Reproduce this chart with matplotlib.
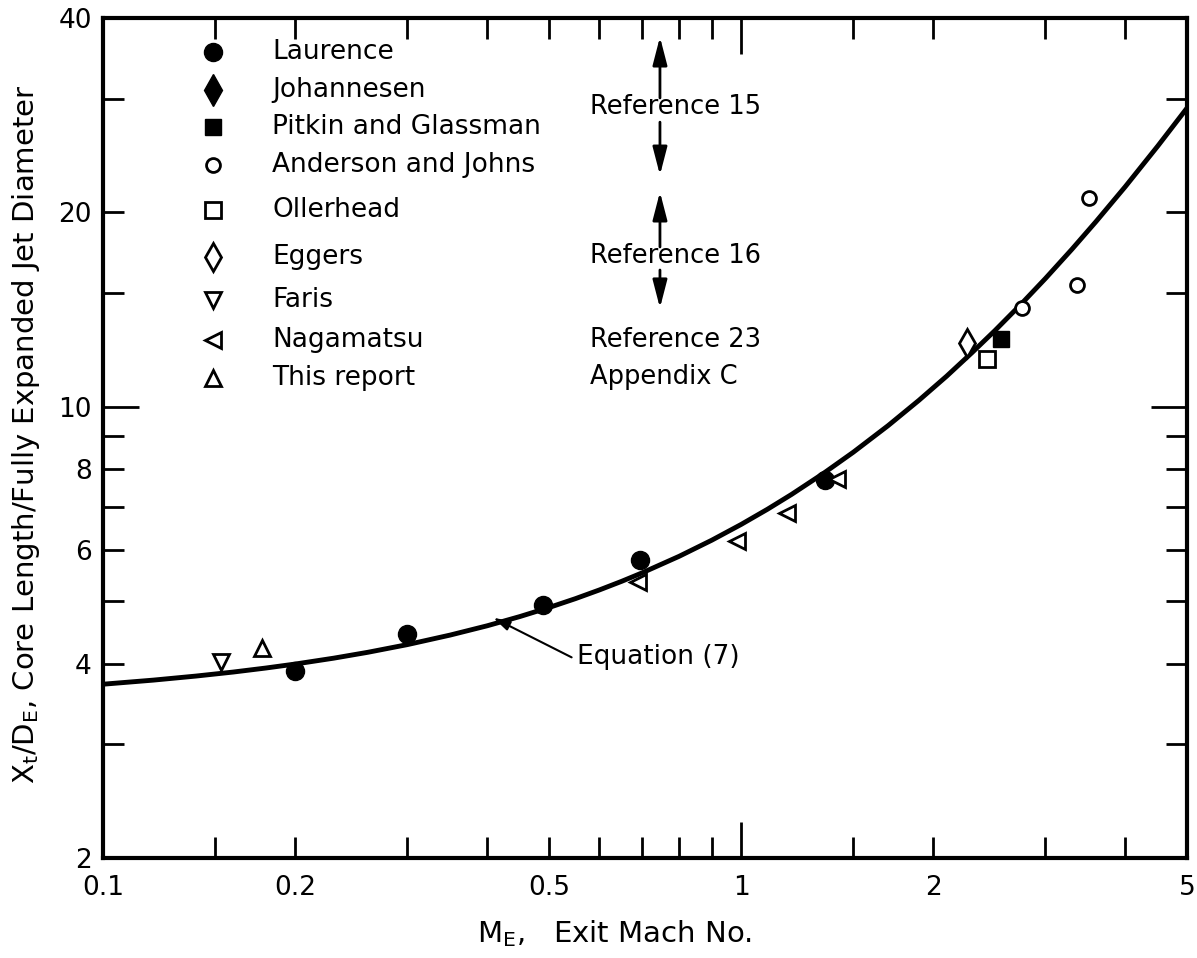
import matplotlib
matplotlib.use("Agg")
import matplotlib.pyplot as plt

plt.rcParams["font.family"] = ["DejaVu Sans"]
plt.rcParams["mathtext.default"] = "regular"

# Exit Mach number / core length ratio for each data source
laurence_m = [0.2, 0.3, 0.49, 0.695, 1.354]
laurence_x = [3.89, 4.45, 4.93, 5.79, 7.70]

johannesen_m = []
johannesen_x = []

pitkin_m = [2.556]
pitkin_x = [12.73]

anderson_m = [2.757, 3.363, 3.512]
anderson_x = [14.22, 15.43, 21.05]

ollerhead_m = [2.43]
ollerhead_x = [11.85]

eggers_m = [2.26]
eggers_x = [12.55]

faris_m = [0.153]
faris_x = [4.02]

nagamatsu_m = [0.690, 0.986, 1.18, 1.414]
nagamatsu_x = [5.35, 6.19, 6.84, 7.73]

this_report_m = [0.1777]
this_report_x = [4.23]

# Equation (7) curve
eq_m = [0.1, 0.12, 0.14, 0.16, 0.18, 0.2, 0.23, 0.26, 0.3, 0.35, 0.4, 0.45,
        0.5, 0.55, 0.6, 0.65, 0.7, 0.8, 0.9, 1.0, 1.1, 1.2, 1.35, 1.5, 1.7,
        1.9, 2.1, 2.3, 2.5, 2.75, 3.0, 3.3, 3.6, 4.0, 4.5, 5.0]
eq_x = [3.717, 3.772, 3.827, 3.882, 3.938, 3.994, 4.079, 4.165, 4.281,
        4.429, 4.578, 4.731, 4.886, 5.043, 5.203, 5.365, 5.530, 5.866,
        6.213, 6.570, 6.937, 7.314, 7.898, 8.504, 9.347, 10.23, 11.15,
        12.12, 13.12, 14.43, 15.80, 17.53, 19.35, 21.91, 25.34, 29.01]

x_tick_labels = {0.1: "0.1", 0.2: "0.2", 0.5: "0.5", 1: "1", 2: "2", 5: "5"}
x_minor = [0.1, 0.15, 0.2, 0.3, 0.4, 0.5, 0.6, 0.7, 0.8, 0.9, 1.5, 2, 3, 4, 5]
y_tick_labels = {2: "2", 4: "4", 6: "6", 8: "8", 10: "10", 20: "20", 40: "40"}
y_minor = [2, 3, 4, 5, 6, 7, 8, 9, 15, 20, 30, 40]

series = [
    ("Laurence", laurence_m, laurence_x, dict(marker="o", ms=13, mfc="k", mec="k")),
    ("Johannesen", johannesen_m, johannesen_x, dict(marker="d", ms=16, mfc="k", mec="k")),
    ("Pitkin and Glassman", pitkin_m, pitkin_x, dict(marker="s", ms=12, mfc="k", mec="k")),
    ("Anderson and Johns", anderson_m, anderson_x, dict(marker="o", ms=10, mfc="white", mec="k", mew=2)),
    ("Ollerhead", ollerhead_m, ollerhead_x, dict(marker="s", ms=11, mfc="white", mec="k", mew=2)),
    ("Eggers", eggers_m, eggers_x, dict(marker="d", ms=14, mfc="white", mec="k", mew=2)),
    ("Faris", faris_m, faris_x, dict(marker="v", ms=11, mfc="white", mec="k", mew=2)),
    ("Nagamatsu", nagamatsu_m, nagamatsu_x, dict(marker="<", ms=11, mfc="white", mec="k", mew=2)),
    ("This report", this_report_m, this_report_x, dict(marker="^", ms=11, mfc="white", mec="k", mew=2)),
]

fig = plt.figure(figsize=(11.97, 9.58), dpi=100)
ax = fig.add_axes([103 / 1197, 100 / 958, 1084 / 1197, 840 / 958])
ax.set_xscale("log")
ax.set_yscale("log")
ax.set_xlim(0.1, 5)
ax.set_ylim(2, 40)

ax.plot(eq_m, eq_x, color="k", lw=3.5, solid_capstyle="butt",
        solid_joinstyle="round", zorder=2)

for name, m, x, style in series:
    if m:
        ax.plot(m, x, linestyle="none", zorder=3, clip_on=False, **style)

# legend drawn by hand
leg_rows = [0.960, 0.914, 0.870, 0.825, 0.771, 0.716, 0.664, 0.617, 0.571]
for (name, m, x, style), yr in zip(series, leg_rows):
    ax.plot([0.1015], [yr], transform=ax.transAxes, linestyle="none",
            clip_on=False, **style)
    ax.text(0.156, yr, name, transform=ax.transAxes, fontsize=19,
            ha="left", va="center")

# reference brackets
ref_kw = dict(transform=ax.transAxes, fontsize=18.5, ha="left", va="center")
ax.text(0.4493, 0.894, "Reference 15", **ref_kw)
ax.text(0.4493, 0.7167, "Reference 16", **ref_kw)
ax.text(0.4493, 0.6167, "Reference 23", **ref_kw)
ax.text(0.4493, 0.5726, "Appendix C", **ref_kw)
arrow_kw = dict(arrowstyle="-|>,head_width=0.22,head_length=0.85", lw=2, color="k",
                shrinkA=0, shrinkB=0, mutation_scale=20)
for y0, y1 in [(0.9048, 0.9774), (0.876, 0.813), (0.7274, 0.7929), (0.700, 0.6548)]:
    ax.annotate("", xy=(0.5138, y1), xytext=(0.5138, y0),
                xycoords="axes fraction", textcoords="axes fraction",
                arrowprops=arrow_kw)

ax.annotate("Equation (7)", xy=(0.409, 4.71), xytext=(0.553, 4.09),
            fontsize=19, ha="left", va="center",
            arrowprops=dict(arrowstyle="-|>,head_width=0.15,head_length=0.5",
                            lw=1.5, color="k", shrinkA=2, shrinkB=0,
                            relpos=(0, 0.4), mutation_scale=20))

# axes styling
for sp in ax.spines.values():
    sp.set_linewidth(3)

ax.set_xticks([1], labels=["1"])
ax.set_xticks(x_minor, labels=[x_tick_labels.get(v, "") for v in x_minor], minor=True)
ax.set_yticks([10], labels=["10"])
ax.set_yticks(y_minor, labels=[y_tick_labels.get(v, "") for v in y_minor], minor=True)
ax.tick_params(which="both", direction="in", top=True, right=True, labelsize=19)
ax.tick_params(which="major", length=26, width=2)
ax.tick_params(which="minor", length=15, width=2)
ax.tick_params(axis="x", which="both", pad=12)
ax.tick_params(axis="y", which="both", pad=8)

ax.set_xlabel("M$_E$,   Exit Mach No.", fontsize=21)
ax.xaxis.set_label_coords(0.472, -0.072)
ax.set_ylabel("X$_t$/D$_E$, Core Length/Fully Expanded Jet Diameter", fontsize=21)
ax.yaxis.set_label_coords(-0.056, 0.504)

fig.savefig("out.png", dpi=100)
